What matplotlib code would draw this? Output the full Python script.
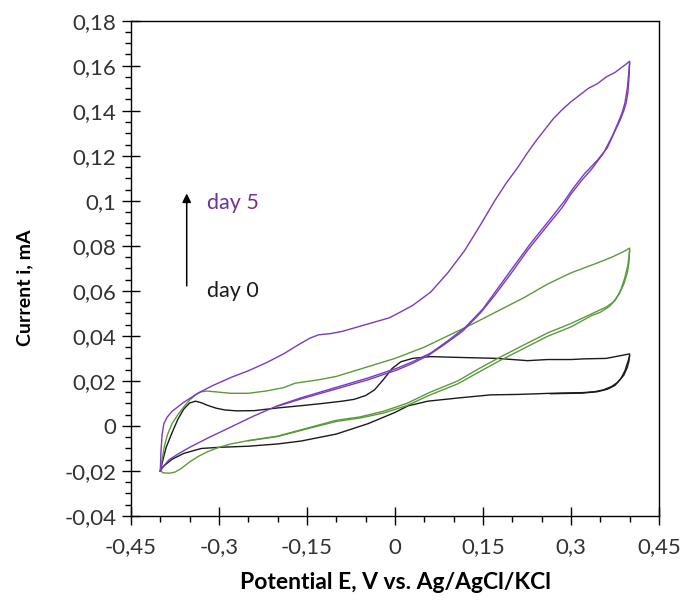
import matplotlib
matplotlib.use('Agg')
import matplotlib.pyplot as plt
from matplotlib.ticker import MultipleLocator, FuncFormatter

plt.rcParams['font.family'] = ['Lato', 'DejaVu Sans']

# day 0 (black)
e_black_up = [-0.40, -0.395, -0.39, -0.38, -0.37, -0.36, -0.35, -0.34, -0.33, -0.32, -0.305, -0.29, -0.27,
              -0.24, -0.20, -0.16, -0.13, -0.09, -0.07, -0.05, -0.035, -0.02, -0.005, 0.01, 0.03, 0.06, 0.10,
              0.175, 0.226, 0.26, 0.30, 0.323, 0.36, 0.38, 0.40]
i_black_up = [-0.020, -0.0145, -0.0095, -0.003, 0.003, 0.0075, 0.0102, 0.011, 0.0103, 0.0092, 0.0079, 0.0071,
              0.0067, 0.0068, 0.008, 0.009, 0.0098, 0.011, 0.0118, 0.0135, 0.016, 0.0205, 0.0255, 0.0285,
              0.030, 0.0308, 0.0305, 0.030, 0.029, 0.0295, 0.0295, 0.0298, 0.030, 0.031, 0.032]
e_black_down = [0.40, 0.399, 0.396, 0.39, 0.38, 0.37, 0.355, 0.34, 0.32, 0.265, 0.21, 0.163, 0.107, 0.056,
                0.022, 0.0, -0.046, -0.10, -0.16, -0.20, -0.25, -0.30, -0.33, -0.36, -0.38, -0.395, -0.40]
i_black_down = [0.032, 0.029, 0.026, 0.0225, 0.0195, 0.0176, 0.016, 0.0152, 0.0148, 0.0145, 0.014, 0.0138,
                0.0124, 0.011, 0.0089, 0.006, 0.001, -0.0036, -0.0067, -0.008, -0.009, -0.0095, -0.010,
                -0.0122, -0.0148, -0.018, -0.020]
e_black_down2 = [0.40, 0.397, 0.392, 0.385, 0.375, 0.362, 0.345, 0.32, 0.265]
i_black_down2 = [0.031, 0.0285, 0.0245, 0.021, 0.018, 0.0163, 0.0152, 0.0146, 0.0143]

# intermediate (green)
e_green_up = [-0.40, -0.397, -0.393, -0.388, -0.38, -0.37, -0.36, -0.35, -0.34, -0.33, -0.32, -0.30, -0.28,
              -0.25, -0.22, -0.19, -0.17, -0.13, -0.10, -0.05, 0.0, 0.05, 0.09, 0.13, 0.175, 0.22, 0.26, 0.30,
              0.345, 0.37, 0.39, 0.40]
i_green_up = [-0.020, -0.015, -0.009, -0.004, 0.001, 0.005, 0.0085, 0.0115, 0.0138, 0.0152, 0.0155, 0.015,
              0.0145, 0.0145, 0.0155, 0.017, 0.019, 0.0205, 0.022, 0.026, 0.030, 0.035, 0.040, 0.045, 0.051,
              0.057, 0.063, 0.068, 0.0724, 0.075, 0.0775, 0.079]
e_green_down = [0.40, 0.399, 0.396, 0.39, 0.382, 0.372, 0.36, 0.345, 0.30, 0.26, 0.22, 0.175, 0.14, 0.107,
                0.06, 0.02, -0.02, -0.06, -0.10, -0.15, -0.20, -0.25, -0.28, -0.30, -0.32, -0.335, -0.35,
                -0.365, -0.375, -0.385, -0.395, -0.40]
i_green_down = [0.079, 0.073, 0.068, 0.063, 0.0585, 0.055, 0.0528, 0.051, 0.0455, 0.0413, 0.036, 0.030,
                0.025, 0.020, 0.015, 0.010, 0.0065, 0.004, 0.0025, -0.001, -0.0045, -0.0065, -0.008, -0.0095,
                -0.0115, -0.0135, -0.016, -0.019, -0.0205, -0.021, -0.0208, -0.020]
e_green_down2 = [0.40, 0.397, 0.392, 0.385, 0.376, 0.365, 0.35, 0.335, 0.30, 0.26, 0.22, 0.175, 0.14, 0.107,
                 0.06, 0.02, -0.02, -0.06, -0.10, -0.15, -0.20, -0.25]
i_green_down2 = [0.078, 0.0715, 0.066, 0.0605, 0.056, 0.053, 0.0505, 0.049, 0.044, 0.0398, 0.0345, 0.0285,
                 0.0235, 0.0187, 0.0138, 0.009, 0.0057, 0.0035, 0.002, -0.0013, -0.0047, -0.0066]

# day 5 (purple)
e_purple_up = [-0.40, -0.399, -0.397, -0.394, -0.388, -0.38, -0.36, -0.335, -0.31, -0.28, -0.25, -0.22,
               -0.19, -0.165, -0.145, -0.13, -0.11, -0.09, -0.07, -0.05, -0.03, -0.01, 0.005, 0.03, 0.061,
               0.09, 0.119, 0.145, 0.17, 0.19, 0.209, 0.225, 0.24, 0.255, 0.27, 0.285, 0.30, 0.315, 0.33,
               0.345, 0.36, 0.375, 0.385, 0.393, 0.40]
i_purple_up = [-0.020, -0.012, -0.004, 0.001, 0.004, 0.0065, 0.0105, 0.0147, 0.018, 0.0215, 0.0245, 0.028,
               0.032, 0.036, 0.039, 0.0405, 0.041, 0.042, 0.0435, 0.045, 0.0465, 0.048, 0.050, 0.0535,
               0.0595, 0.068, 0.078, 0.089, 0.100, 0.108, 0.1147, 0.121, 0.1265, 0.1315, 0.1365, 0.1405,
               0.144, 0.147, 0.150, 0.152, 0.155, 0.157, 0.159, 0.1605, 0.162]
e_purple_down = [0.40, 0.399, 0.397, 0.394, 0.39, 0.384, 0.375, 0.362, 0.345, 0.323, 0.305, 0.289, 0.265,
                 0.231, 0.20, 0.175, 0.15, 0.119, 0.09, 0.061, 0.03, 0.005, -0.046, -0.102, -0.16, -0.20,
                 -0.24, -0.28, -0.32, -0.35, -0.37, -0.385, -0.395, -0.40]
i_purple_down = [0.162, 0.155, 0.148, 0.1435, 0.140, 0.136, 0.131, 0.1236, 0.118, 0.112, 0.106, 0.100, 0.092,
                 0.081, 0.070, 0.061, 0.052, 0.0436, 0.0378, 0.0324, 0.0285, 0.0258, 0.0213, 0.017, 0.0125,
                 0.009, 0.0045, -0.0005, -0.0055, -0.0095, -0.0125, -0.015, -0.018, -0.020]
e_purple_down2 = [0.40, 0.396, 0.392, 0.387, 0.38, 0.37, 0.355, 0.335, 0.318, 0.30, 0.285, 0.26, 0.226, 0.20,
                  0.17, 0.145, 0.115, 0.086, 0.058, 0.03, 0.005, -0.046, -0.102, -0.16, -0.20]
i_purple_down2 = [0.161, 0.150, 0.1435, 0.139, 0.1345, 0.1285, 0.121, 0.114, 0.109, 0.103, 0.097, 0.089,
                  0.078, 0.0685, 0.058, 0.050, 0.042, 0.0365, 0.0315, 0.0278, 0.0250, 0.0205, 0.0163, 0.012,
                  0.0088]

x_ticks = [-0.45, -0.3, -0.15, 0, 0.15, 0.3, 0.45]

black = '#1a1a1a'
green = '#5b9a3c'
purple = '#7a3bbd'

fig = plt.figure(figsize=(6.85, 6.05), dpi=100)
ax = fig.add_axes([0.1912, 0.1471, 0.7708, 0.8187])

lw = 1.0
ax.plot(e_black_up + e_black_down, i_black_up + i_black_down, color=black, lw=lw)
ax.plot(e_black_down2, i_black_down2, color=black, lw=lw)
ax.plot(e_green_up + e_green_down, i_green_up + i_green_down, color=green, lw=lw)
ax.plot(e_green_down2, i_green_down2, color=green, lw=lw)
ax.plot(e_purple_up + e_purple_down, i_purple_up + i_purple_down, color=purple, lw=lw)
ax.plot(e_purple_down2, i_purple_down2, color=purple, lw=lw)

ax.set_xlim(-0.45, 0.45)
ax.set_ylim(-0.04, 0.18)
ax.set_xticks(x_ticks)
ax.xaxis.set_minor_locator(MultipleLocator(0.05))
ax.yaxis.set_major_locator(MultipleLocator(0.02))
ax.yaxis.set_minor_locator(MultipleLocator(0.005))


def comma(v, pos):
    s = ('%.2f' % v).rstrip('0').rstrip('.')
    if s in ('-0', ''):
        s = '0'
    return s.replace('.', ',')


ax.xaxis.set_major_formatter(FuncFormatter(comma))
ax.yaxis.set_major_formatter(FuncFormatter(comma))

for sp in ax.spines.values():
    sp.set_linewidth(1.0)
ax.tick_params(which='major', direction='inout', length=13, width=1.0, labelsize=16,
               labelcolor='#333333', pad=4)
ax.tick_params(which='minor', direction='out', length=4.5, width=1.0)
ax.tick_params(axis='x', which='major', pad=9)

ax.set_xlabel('Potential E, V vs. Ag/AgCl/KCl', fontsize=16.5, fontweight='bold')
ax.xaxis.set_label_coords(0.5, -0.113)
ax.set_ylabel('Current i, mA', fontsize=14, fontweight='bold')
ax.yaxis.set_label_coords(-0.186, 0.46)

ax.annotate('', xy=(-0.355, 0.1045), xytext=(-0.355, 0.061),
            arrowprops=dict(arrowstyle='-|>', color='black', lw=1.1, mutation_scale=13))
ax.text(-0.32, 0.099, 'day 5', color='#7030a0', fontsize=15.5, va='center')
ax.text(-0.32, 0.060, 'day 0', color='#1a1a1a', fontsize=15.5, va='center')

fig.savefig('out.png', dpi=100)
